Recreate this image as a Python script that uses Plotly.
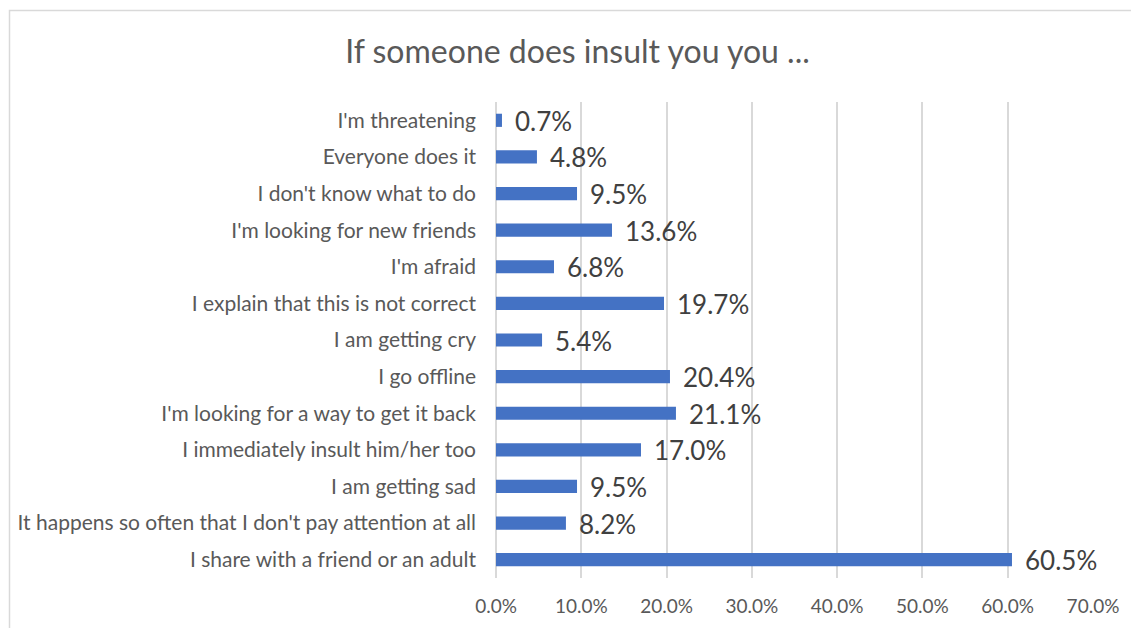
import plotly.graph_objects as go

categories = [
    "I share with a friend or an adult",
    "It happens so often that I don't pay attention at all",
    "I am getting sad",
    "I immediately insult him/her too",
    "I'm looking for a way to get it back",
    "I go offline",
    "I am getting cry",
    "I explain that this is not correct",
    "I'm afraid",
    "I'm looking for new friends",
    "I don't know what to do",
    "Everyone does it",
    "I'm threatening",
]
values = [0.605, 0.082, 0.095, 0.170, 0.211, 0.204, 0.054, 0.197, 0.068, 0.136, 0.095, 0.048, 0.007]
tick_vals = [0.0, 0.1, 0.2, 0.3, 0.4, 0.5, 0.6, 0.7]

OFF = 8  # page body margin
W, H = 1139 - OFF, 628 - OFF
L = 496 - OFF
R = W - (1093 - OFF)
T = 102 - OFF
B = H - (578 - OFF)
FONT = "Lato, Carlito, Calibri, sans-serif"

fig = go.Figure()
fig.add_trace(go.Bar(
    x=values, y=categories, orientation="h",
    marker=dict(color="#4472C4", line=dict(width=0)),
    hoverinfo="x+y",
))

for c, v in zip(categories, values):
    fig.add_annotation(x=v, y=c, text=f"{v*100:.1f}%", showarrow=False,
                       xanchor="left", yanchor="middle", xshift=11, yshift=-0.5,
                       font=dict(family=FONT, size=26, color="#404040"))

pw = W - L - R
ph = H - T - B
def px_x(p):
    return (p - OFF - L) / pw
def px_y(p):
    return (H - B - (p - OFF)) / ph

fig.add_shape(type="rect", xref="paper", yref="paper",
              x0=px_x(9.5), x1=px_x(1160), y0=px_y(650), y1=px_y(10.5),
              line=dict(color="#d9d9d9", width=1.5), fillcolor="rgba(0,0,0,0)", layer="below")

fig.update_layout(
    width=W, height=H,
    margin=dict(l=L, r=R, t=T, b=B, autoexpand=False),
    paper_bgcolor="white", plot_bgcolor="white",
    bargap=0.64,
    showlegend=False,
    title=dict(text="If someone does insult you you ...", x=(577.5 - OFF) / W, xref="container",
               xanchor="center", y=1 - (52 - OFF) / H, yref="container", yanchor="middle",
               font=dict(family=FONT, size=32, color="#595959")),
    xaxis=dict(range=[0, 0.7], tickvals=tick_vals, tickformat=".1%", automargin=False,
               showgrid=True, gridcolor="#d9d9d9", gridwidth=1.5,
               zeroline=True, zerolinecolor="#d9d9d9", zerolinewidth=1.5,
               showline=False, ticks="", ticklabelstandoff=15,
               tickfont=dict(family=FONT, size=19, color="#595959"), fixedrange=True),
    yaxis=dict(categoryorder="array", categoryarray=categories, range=[-0.5, len(categories) - 0.5],
               automargin=False,
               showgrid=False, zeroline=False, showline=False, ticks="", ticklabelstandoff=19,
               tickfont=dict(family=FONT, size=21, color="#595959"), fixedrange=True),
)

fig.write_html("out.html")
